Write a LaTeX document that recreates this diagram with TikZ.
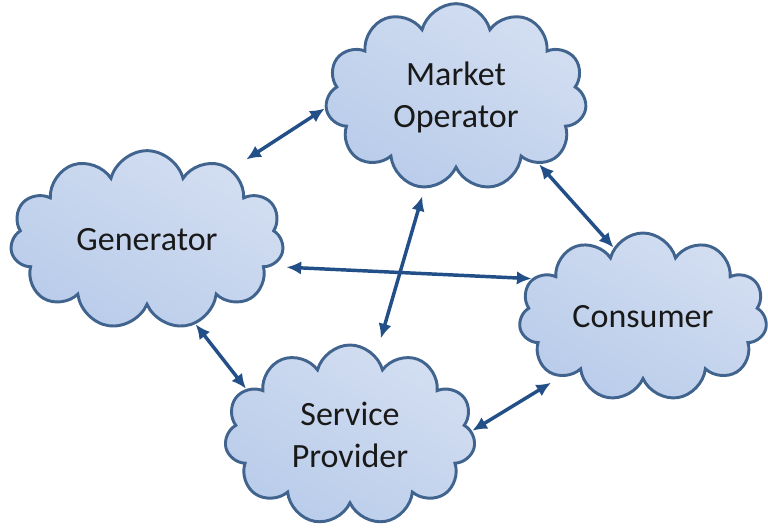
\documentclass[tikz,border=0pt]{standalone}
\usepackage{fontspec}
\setmainfont{Carlito}
\usetikzlibrary{shapes.symbols}
\usetikzlibrary{arrows.meta}

\begin{document}
\begin{tikzpicture}[x=0.75pt, y=-0.75pt,
		party/.style={cloud, cloud puffs=11, cloud ignores aspect, draw=cloudline, line width=2.2pt,
			top color=cloudtop, bottom color=cloudbot, shading angle=-30, align=center, inner sep=0pt,
			text=black!90, font=\fontsize{25.5}{31.5}\selectfont},
		link/.style={{Latex[length=11pt,width=10pt]}-{Latex[length=11pt,width=10pt]}, draw=linkblue, line width=2.6pt}]
		\definecolor{cloudline}{HTML}{41648F}
		\definecolor{cloudtop}{HTML}{D3DEF1}
		\definecolor{cloudbot}{HTML}{B9CCEA}
		\definecolor{linkblue}{HTML}{234F88}
		\useasboundingbox (0,0) rectangle (768,529);
		\node (market) [party, minimum width=196pt, minimum height=140pt] at (456,97) {Market\\Operator};
		\node (generator) [party, minimum width=205pt, minimum height=134pt] at (147,240) {Generator};
		\node (consumer) [party, minimum width=186pt, minimum height=126pt] at (643,317) {Consumer};
		\node (provider) [party, minimum width=188pt, minimum height=135pt] at (350,435) {Service\\Provider};
		
		\draw [link, shorten >=13pt] (market.185) -- (generator.40);
		\draw [link] (market.321) -- (consumer.113);
		\draw [link, shorten <=6pt, shorten >=13pt] (market.251) -- (provider.72);
		\draw [link, shorten <=11pt] (generator.348) -- (consumer.161);
		\draw [link] (generator.300) -- (provider.156);
		\draw [link, shorten <=8pt] (consumer.216) -- (provider.2);
	\end{tikzpicture}
\end{document}
